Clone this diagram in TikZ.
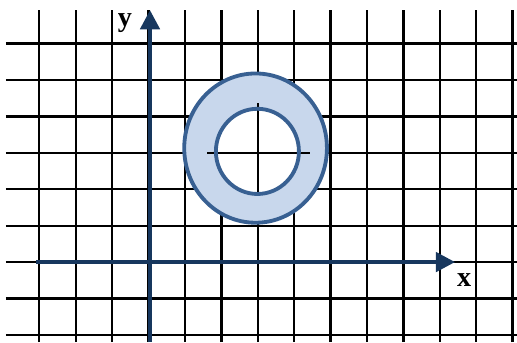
\documentclass[tikz,border=0pt]{standalone}
\usepackage{fontspec}
\setmainfont{Liberation Serif}
\usetikzlibrary{arrows.meta}
\definecolor{axisnavy}{RGB}{23,55,94}
\definecolor{ringblue}{RGB}{56,96,146}
\definecolor{ringfill}{RGB}{200,215,236}

\begin{document}
\begin{tikzpicture}[
    gridline/.style={black, line width=1.8pt},
    axis/.style={draw=axisnavy, line width=3.2pt, -{Triangle[width=15pt,length=15pt]}},
    ring/.style={draw=ringblue, line width=3pt},
    axislabel/.style={font=\fontsize{22}{24}\selectfont\bfseries}
]
    \useasboundingbox (-4.08,-2.198) rectangle (10.12,7.198);

    % grid
    \foreach \x in {-3,...,10}
        \draw[gridline] (\x,-2.2) -- (\x,6.92);
    \foreach \y in {-2,...,6}
        \draw[gridline] (-3.92,\y) -- (10.12,\y);

    % ring
    \fill[ringfill] (2.94,3.13) ellipse [x radius=1.96, y radius=2.05];
    \fill[white] (2.99,3.04) ellipse [x radius=1.14, y radius=1.17];
    \draw[gridline] (1.61,3) -- (4.44,3);
    \draw[gridline] (3,1.84) -- (3,4.37);
    \draw[ring] (2.94,3.13) ellipse [x radius=1.96, y radius=2.05];
    \draw[ring] (2.99,3.04) ellipse [x radius=1.14, y radius=1.17];

    % axes
    \coordinate (xstart) at (-3.09,0);
    \coordinate (xend) at (8.42,0);
    \coordinate (ystart) at (0.04,-2.2);
    \coordinate (yend) at (0.04,6.92);
    \draw[axis] (xstart) -- (xend);
    \draw[axis] (ystart) -- (yend);

    \node[axislabel] (xlab) at (8.67,-0.48) {x};
    \node[axislabel] (ylab) at (-0.65,6.57) {y};
\end{tikzpicture}
\end{document}
